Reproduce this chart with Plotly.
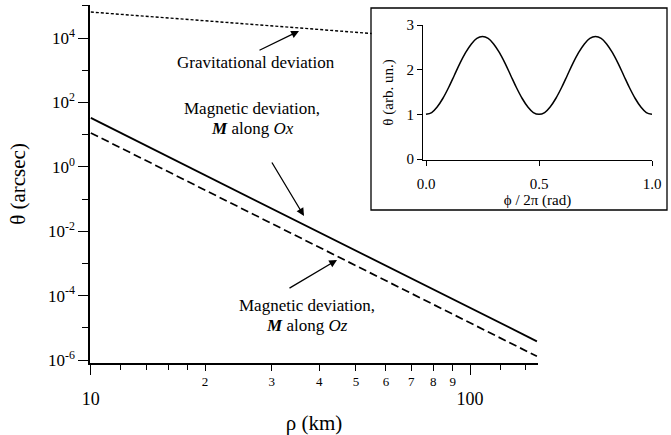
import math
import plotly.graph_objects as go

W, H = 671, 435
FONT = "Liberation Serif"

# ---- main chart data ----
rho = [10, 20, 50, 100, 150]
theta_mag_ox = [33, 0.553, 2.49e-3, 4.15e-5, 3.8e-6]
theta_mag_oz = [11.3, 0.19, 8.5e-4, 1.42e-5, 1.3e-6]
rho_grav = [10, 20, 30, 40, 55]
theta_grav = [6.4e4, 3.43e4, 2.38e4, 1.84e4, 1.38e4]

y_major = [1e-6, 1e-4, 1e-2, 1e0, 1e2, 1e4]
y_major_text = ["10<sup>-6</sup>", "10<sup>-4</sup>", "10<sup>-2</sup>", "10<sup>0</sup>",
                "10<sup>2</sup>", "10<sup>4</sup>"]
y_minor = [1e-5, 1e-3, 1e-1, 1e1, 1e3, 1e5]
x_major = [10, 100]
x_major_text = ["10", "100"]
x_mid = [20, 30, 40, 50, 60, 70, 80, 90]
x_mid_text = ["2", "3", "4", "5", "6", "7", "8", "9"]
x_minor = [12, 14, 16, 18, 120, 140]

# ---- inset data ----
phi = [0, 0.025, 0.05, 0.075, 0.1, 0.125, 0.15, 0.175, 0.2, 0.225, 0.25,
       0.275, 0.3, 0.325, 0.35, 0.375, 0.4, 0.425, 0.45, 0.475, 0.5,
       0.525, 0.55, 0.575, 0.6, 0.625, 0.65, 0.675, 0.7, 0.725, 0.75,
       0.775, 0.8, 0.825, 0.85, 0.875, 0.9, 0.925, 0.95, 0.975, 1.0]
theta_inset = [1.00, 1.04, 1.17, 1.36, 1.60, 1.87, 2.14, 2.38, 2.57, 2.70, 2.74,
               2.70, 2.57, 2.38, 2.14, 1.87, 1.60, 1.36, 1.17, 1.04, 1.00,
               1.04, 1.17, 1.36, 1.60, 1.87, 2.14, 2.38, 2.57, 2.70, 2.74,
               2.70, 2.57, 2.38, 2.14, 1.87, 1.60, 1.36, 1.17, 1.04, 1.00]


def px(x):
    return x / W


def py(y):
    return 1 - y / H


fig = go.Figure()
fig.add_trace(go.Scatter(x=rho_grav, y=theta_grav, mode="lines",
                         line=dict(color="black", width=1.4, dash="3px,2px"),
                         xaxis="x", yaxis="y", showlegend=False, hoverinfo="skip"))
fig.add_trace(go.Scatter(x=rho, y=theta_mag_ox, mode="lines",
                         line=dict(color="black", width=1.8),
                         xaxis="x", yaxis="y", showlegend=False))
fig.add_trace(go.Scatter(x=rho, y=theta_mag_oz, mode="lines",
                         line=dict(color="black", width=1.7, dash="8px,4px"),
                         xaxis="x", yaxis="y", showlegend=False))
# invisible trace so that the overlaid major-tick axis is drawn
fig.add_trace(go.Scatter(x=rho, y=theta_mag_ox, mode="lines", line=dict(width=0),
                         opacity=0, xaxis="x2", yaxis="y", showlegend=False, hoverinfo="skip"))
fig.add_trace(go.Scatter(x=phi, y=theta_inset, mode="lines", line_shape="spline",
                         line=dict(color="black", width=1.5),
                         xaxis="x3", yaxis="y3", showlegend=False))

xr = [math.log10(9.95), math.log10(151)]
yr = [-6.093, 5.025]
xdom = [px(90), px(538)]
ydom = [py(363), py(5)]

axcommon = dict(showgrid=False, zeroline=False, color="black", automargin=False)

fig.update_layout(
    width=W, height=H, margin=dict(l=0, r=0, t=0, b=0),
    template="none", paper_bgcolor="white", plot_bgcolor="rgba(0,0,0,0)",
    font=dict(family=FONT, color="black"),
    xaxis=dict(type="log", range=xr, domain=xdom, anchor="y",
               showline=True, linecolor="black", linewidth=1.5,
               ticks="outside", ticklen=6, tickwidth=1.2, tickcolor="black",
               tickmode="array", tickvals=x_mid, ticktext=x_mid_text,
               tickfont=dict(size=13, color="black"),
               minor=dict(ticks="outside", ticklen=5, tickwidth=1.2, tickcolor="black",
                          tickmode="array", tickvals=x_minor, showgrid=False),
               **axcommon),
    xaxis2=dict(type="log", range=xr, domain=xdom, anchor="y", overlaying="x", side="bottom",
                showline=False, ticks="outside", ticklen=11, tickwidth=1.2, tickcolor="black",
                tickmode="array", tickvals=x_major, ticktext=x_major_text,
                tickfont=dict(size=18), ticklabelstandoff=8,
                title=dict(text="ρ (km)", font=dict(size=21), standoff=9),
                **axcommon),
    yaxis=dict(type="log", range=yr, domain=ydom, anchor="x",
               showline=True, linecolor="black", linewidth=1.5,
               ticks="outside", ticklen=10, tickwidth=1.2, tickcolor="black",
               tickmode="array", tickvals=y_major, ticktext=y_major_text,
               tickfont=dict(size=17),
               minor=dict(ticks="outside", ticklen=6, tickwidth=1.2, tickcolor="black",
                          tickmode="array", tickvals=y_minor, showgrid=False),
               title=dict(text="θ (arcsec)", font=dict(size=21), standoff=17),
               **axcommon),
    xaxis3=dict(range=[-0.0133, 1.0], domain=[px(423), px(652)], anchor="y3",
                showline=True, linecolor="black", linewidth=1.2,
                ticks="outside", ticklen=5, tickwidth=1.2, tickcolor="black",
                tickmode="array", tickvals=[0, 0.5, 1.0], ticktext=["0.0", "0.5", "1.0"],
                tickfont=dict(size=15), ticklabelstandoff=5,
                title=dict(text="ϕ / 2π (rad)", font=dict(size=15), standoff=0),
                **axcommon),
    yaxis3=dict(range=[-0.0224, 3], domain=[py(160), py(25)], anchor="x3",
                showline=True, linecolor="black", linewidth=1.2,
                ticks="outside", ticklen=5, tickwidth=1.2, tickcolor="black",
                tickmode="array", tickvals=[0, 1, 2, 3], ticktext=["0", "1", "2", "3"],
                tickfont=dict(size=15),
                title=dict(text="θ (arb. un.)", font=dict(size=15), standoff=9),
                **axcommon),
)

fig.add_shape(type="rect", xref="paper", yref="paper",
              x0=px(371), x1=px(667), y0=py(210), y1=py(8),
              line=dict(color="black", width=1.3), fillcolor="white", layer="below")

tf = dict(family=FONT, size=17, color="black")


def label(x, y, text):
    fig.add_annotation(x=px(x), y=py(y), xref="paper", yref="paper", text=text,
                       showarrow=False, font=tf, xanchor="center", yanchor="middle")


def arrow(x0, y0, x1, y1):
    fig.add_annotation(x=px(x1), y=py(y1), xref="paper", yref="paper", text="",
                       showarrow=True, ax=x0 - x1, ay=y0 - y1, axref="pixel", ayref="pixel",
                       arrowhead=2, arrowsize=1.2, arrowwidth=1.3, arrowcolor="black")


label(256, 62, "Gravitational deviation")
arrow(258, 51, 299, 31)
label(252, 108, "Magnetic deviation,")
label(252, 128, "<b><i>M</i></b> along <i>Ox</i>")
arrow(271, 161, 304, 216)
label(307, 305, "Magnetic deviation,")
label(307, 325, "<b><i>M</i></b> along <i>Oz</i>")
arrow(288, 289, 337, 260)

fig.write_html("out.html")
